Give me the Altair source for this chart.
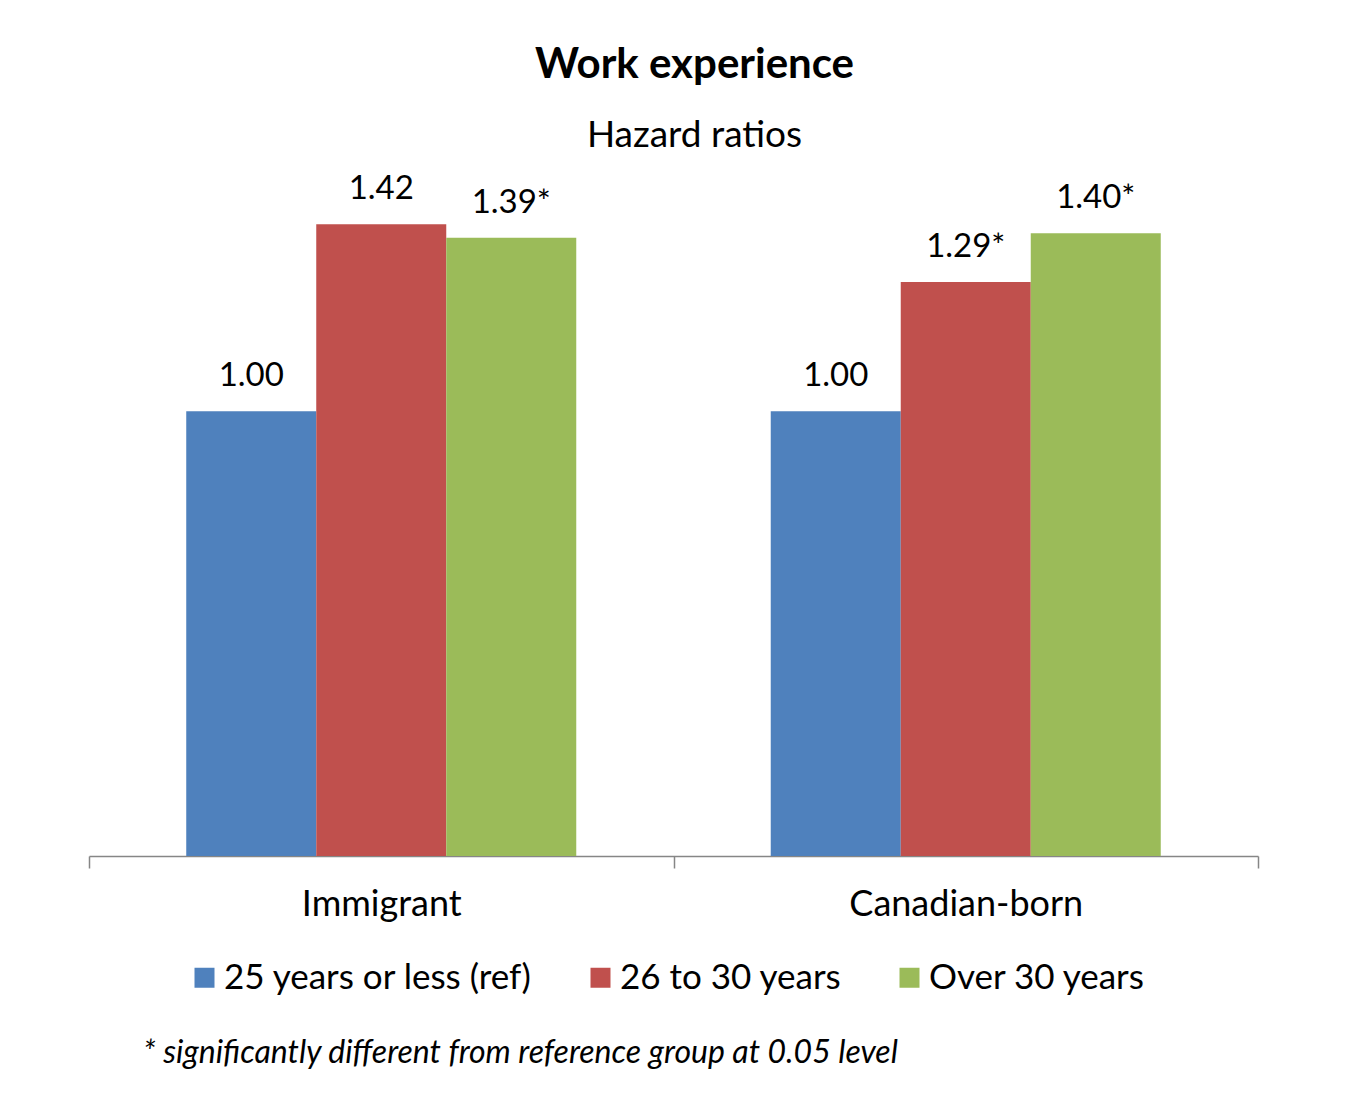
import altair as alt
import pandas as pd

groups = ["Immigrant", "Canadian-born"]
series = ["25 years or less (ref)", "26 to 30 years", "Over 30 years"]
colors = ["#4F81BD", "#C0504D", "#9BBB59"]
immigrant_values = [1.00, 1.42, 1.39]
canadian_values = [1.00, 1.29, 1.40]
immigrant_labels = ["1.00", "1.42", "1.39*"]
canadian_labels = ["1.00", "1.29*", "1.40*"]
footnote = ["* significantly different from  reference group at 0.05 level"]

rows = []
for g, vals, labs in [(groups[0], immigrant_values, immigrant_labels),
                      (groups[1], canadian_values, canadian_labels)]:
    for s, v, l in zip(series, vals, labs):
        rows.append({"group": g, "series": s, "value": v, "label": l})
df = pd.DataFrame(rows)
foot_df = pd.DataFrame({"note": footnote})

FONT = "Lato"

x_enc = alt.X(
    "group:N", sort=groups,
    scale=alt.Scale(paddingInner=0, paddingOuter=0),
    axis=alt.Axis(title=None, labelAngle=0, tickBand="extent", tickSize=12,
                  domainColor="#868686", tickColor="#868686", domainWidth=1.5,
                  tickWidth=1.5, labelFontSize=36, labelColor="#000000",
                  labelFont=FONT, labelPadding=19, labelLimit=0, grid=False),
)
xo_enc = alt.XOffset("series:N", sort=series,
                     scale=alt.Scale(paddingOuter=0.748, paddingInner=0))
y_enc = alt.Y("value:Q", scale=alt.Scale(domain=[0, 1.56]), axis=None)

bars = alt.Chart(df).mark_bar().encode(
    x=x_enc, xOffset=xo_enc, y=y_enc,
    color=alt.Color(
        "series:N", sort=series,
        scale=alt.Scale(domain=series, range=colors),
        legend=alt.Legend(title=None, orient="none", direction="horizontal",
                          legendX=98, legendY=798, symbolType="square",
                          symbolSize=400, symbolStrokeWidth=0, labelFontSize=35,
                          labelFont=FONT, labelColor="#000000", labelOffset=2,
                          labelLimit=0, columnPadding=50, padding=0),
    ),
)

labels = alt.Chart(df).mark_text(
    baseline="alphabetic", dy=-25, fontSize=33, font=FONT, color="#000000"
).encode(x=x_enc, xOffset=xo_enc, y=y_enc, text="label:N")

note = alt.Chart(foot_df).mark_text(
    align="left", baseline="alphabetic", fontSize=32, font=FONT,
    fontStyle="italic", color="#000000"
).encode(x=alt.value(54), y=alt.value(901), text="note:N")

chart = alt.layer(bars, labels, note).properties(
    width=1169, height=694,
    title=alt.TitleParams(
        text="Work experience", subtitle="Hazard ratios",
        fontSize=42, font=FONT, fontWeight="bold", color="#000000",
        subtitleFontSize=37, subtitleFont=FONT, subtitleColor="#000000",
        anchor="middle", dx=21, offset=7, subtitlePadding=31,
    ),
    padding={"left": 88, "top": 44, "right": 10, "bottom": 10},
    background="#FFFFFF",
).configure_view(stroke=None)

chart.save("out.html", embed_options={"renderer": "svg", "actions": False})
